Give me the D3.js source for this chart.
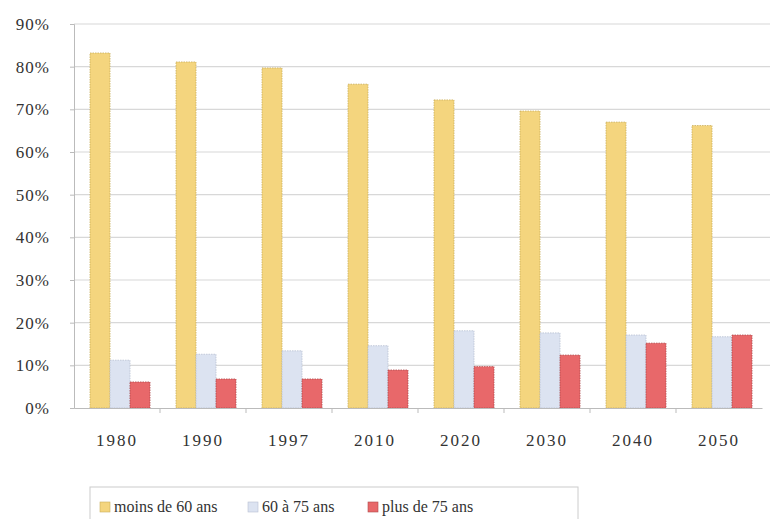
<!DOCTYPE html>
<html><head><meta charset="utf-8">
<script src="https://cdn.jsdelivr.net/npm/d3@7"></script>
<style>body{margin:0;background:#fff}svg{display:block}text{font-family:"Liberation Serif","DejaVu Serif",serif}</style>
</head><body><svg id="c" width="770" height="519"></svg>
<script>
const categories = ["1980","1990","1997","2010","2020","2030","2040","2050"];
const seriesNames = ["moins de 60 ans","60 à 75 ans","plus de 75 ans"];
const moins60 = [83.2, 81.1, 79.7, 75.9, 72.2, 69.6, 67.0, 66.2];
const de60a75 = [11.2, 12.6, 13.4, 14.6, 18.1, 17.6, 17.1, 16.7];
const plus75 = [6.1, 6.8, 6.8, 8.9, 9.7, 12.4, 15.2, 17.1];
const yTicks = [0,10,20,30,40,50,60,70,80,90];
const colors = ["#F4D57E","#DCE3F1","#E8686A"];
const strokes = ["#c9ae5c","#b8c0d2","#b04a4c"];

const series = [moins60, de60a75, plus75];
const svg = d3.select("#c");
const x0 = d3.scaleBand().domain(categories).range([74, 762]);
const x1 = d3.scaleBand().domain(d3.range(3)).range([16, 76]);
const y = d3.scaleLinear().domain([0, 90]).range([408, 24]);

svg.append("g").selectAll("line").data(yTicks.filter(d=>d>0)).join("line")
  .attr("x1", 74).attr("x2", 770).attr("y1", d=>y(d)).attr("y2", d=>y(d))
  .attr("stroke", "#d8d8d8").attr("stroke-width", 1.2);

const yAxis = d3.axisLeft(y).tickValues(yTicks).tickFormat(d=>d+"%").tickSize(4).tickPadding(20);
const gy = svg.append("g").attr("transform","translate(74,0)").call(yAxis);
gy.attr("font-family", null);
gy.select(".domain").attr("stroke","#bbb");
gy.selectAll(".tick line").attr("stroke","#bbb");
gy.selectAll("text").attr("font-size",17).attr("fill","#333").attr("letter-spacing","1px");

const g = svg.append("g");
categories.forEach((c, i) => {
  series.forEach((s, j) => {
    g.append("rect")
      .attr("x", x0(c) + x1(j))
      .attr("y", y(s[i]))
      .attr("width", x1.bandwidth())
      .attr("height", y(0) - y(s[i]))
      .attr("fill", colors[j])
      .attr("stroke", strokes[j]).attr("stroke-width", 0.8).attr("stroke-dasharray","1.5,1");
  });
});

const xAxis = d3.axisBottom(x0).tickSize(0).tickPadding(26);
const gx = svg.append("g").attr("transform","translate(0,408)").call(xAxis);
gx.attr("font-family", null);
gx.select(".domain").attr("stroke","#bbb");
gx.selectAll("text").attr("font-size",17).attr("fill","#333").attr("letter-spacing","2px");
svg.append("g").selectAll("line").data(categories.slice(1)).join("line")
  .attr("x1", d=>x0(d)).attr("x2", d=>x0(d)).attr("y1", 408).attr("y2", 413)
  .attr("stroke","#bbb");

const lg = svg.append("g");
lg.append("rect").attr("x",90).attr("y",487).attr("width",488).attr("height",40)
  .attr("fill","#fff").attr("stroke","#ccc");
const lx = [100, 248, 368];
seriesNames.forEach((n, j) => {
  lg.append("rect").attr("x", lx[j]).attr("y", 502).attr("width", 10).attr("height", 10)
    .attr("fill", colors[j]).attr("stroke", strokes[j]).attr("stroke-width",0.6);
  lg.append("text").attr("x", lx[j] + 14).attr("y", 512).text(n)
    .attr("font-size",16).attr("fill","#333");
});
</script></body></html>
